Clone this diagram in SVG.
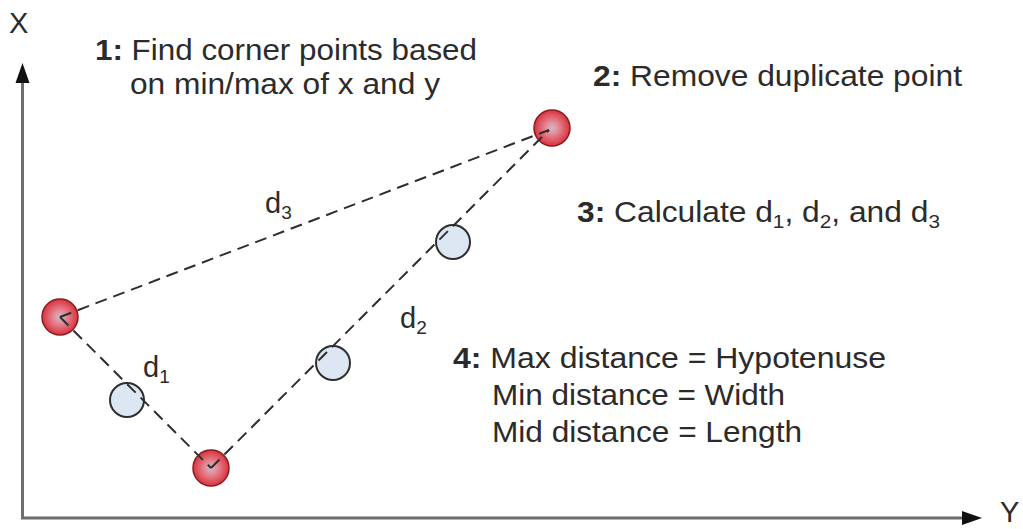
<svg xmlns="http://www.w3.org/2000/svg" width="1023" height="529" viewBox="0 0 1023 529">
<defs>
<style>
text{font-family:"Liberation Sans",Arial,sans-serif;font-size:29px;fill:#2b2b2b}
.b{font-weight:bold}
.sub{font-size:19px}
.axis{stroke:#6e6e6e;stroke-width:3;fill:none}
.dash{stroke:#2e2e2e;stroke-width:2;stroke-dasharray:12 7;fill:none}
.red{fill:url(#rg);stroke:#8a1c1c;stroke-width:1.5}
.blue{fill:#dde6f3;stroke:#2e2e2e;stroke-width:2}
</style>
<radialGradient id="rg" cx="0.5" cy="0.5" r="0.5">
<stop offset="0" stop-color="#c9bccb"/>
<stop offset="0.35" stop-color="#e58a96"/>
<stop offset="1" stop-color="#d9323f"/>
</radialGradient>
</defs>
<rect width="1023" height="529" fill="#ffffff"/>
<g id="axes">
<line class="axis" x1="22.5" y1="80" x2="22.5" y2="518"/>
<line class="axis" x1="21" y1="518" x2="965" y2="518"/>
<polygon points="22.5,63 15.5,83 29.5,83" fill="#111"/>
<polygon points="982,518 962,511 962,525" fill="#111"/>
<text x="9" y="33">X</text>
<text x="1000" y="522" font-size="27">Y</text>
</g>
<g id="points">
<circle class="red" cx="60" cy="317" r="18"/>
<circle class="red" cx="552" cy="128" r="18"/>
<circle class="red" cx="211" cy="468" r="18"/>
<circle class="blue" cx="127" cy="400" r="17"/>
<circle class="blue" cx="333" cy="363" r="17"/>
<circle class="blue" cx="453" cy="242" r="17"/>
</g>
<g id="connectors">
<line class="dash" x1="60" y1="317" x2="549" y2="130"/>
<line class="dash" x1="60" y1="317" x2="211" y2="468"/>
<line class="dash" x1="211" y1="468" x2="549" y2="130"/>
</g>
<g id="labels">
<text x="265" y="213">d<tspan class="sub" dy="6">3</tspan></text>
<text x="400" y="328">d<tspan class="sub" dy="6">2</tspan></text>
<text x="143" y="377">d<tspan class="sub" dy="6">1</tspan></text>
</g>
<g id="step1">
<text x="95" y="60" textLength="382" lengthAdjust="spacingAndGlyphs"><tspan class="b">1:</tspan> Find corner points based</text>
<text x="130" y="94" textLength="310" lengthAdjust="spacingAndGlyphs">on min/max of x and y</text>
</g>
<g id="step2">
<text x="593" y="86" textLength="369" lengthAdjust="spacingAndGlyphs"><tspan class="b">2:</tspan> Remove duplicate point</text>
</g>
<g id="step3">
<text x="577" y="222" textLength="363" lengthAdjust="spacingAndGlyphs"><tspan class="b">3:</tspan> Calculate d<tspan class="sub" dy="6">1</tspan><tspan dy="-6">, d</tspan><tspan class="sub" dy="6">2</tspan><tspan dy="-6">, and d</tspan><tspan class="sub" dy="6">3</tspan></text>
</g>
<g id="step4">
<text x="453" y="368" textLength="433" lengthAdjust="spacingAndGlyphs"><tspan class="b">4:</tspan> Max distance = Hypotenuse</text>
<text x="492" y="405" textLength="293" lengthAdjust="spacingAndGlyphs">Min distance = Width</text>
<text x="492" y="442" textLength="310" lengthAdjust="spacingAndGlyphs">Mid distance = Length</text>
</g>
</svg>
